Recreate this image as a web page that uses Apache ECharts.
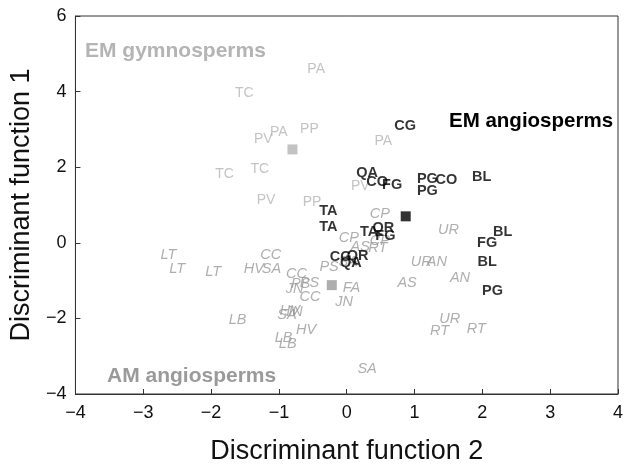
<!DOCTYPE html>
<html>
<head>
<meta charset="utf-8">
<script src="https://cdn.jsdelivr.net/npm/echarts@6/dist/echarts.min.js"></script>
<style>
html, body { margin: 0; padding: 0; background: #fff; }
#main { width: 626px; height: 470px; }
</style>
</head>
<body>
<div id="main"></div>
<script>
// EM gymnosperms
var gymNames = ['PA', 'TC', 'PP', 'PA', 'PV', 'PA', 'TC', 'TC', 'PV', 'PV', 'PP'];
var gymX = [-0.45, -1.51, -0.55, -1.00, -1.23, 0.54, -1.28, -1.80, 0.20, -1.19, -0.51];
var gymY = [4.60, 3.97, 3.01, 2.92, 2.75, 2.68, 1.96, 1.81, 1.49, 1.12, 1.08];
var gymCentroid = [-0.80, 2.47];

// EM angiosperms
var emaNames = ['CG', 'QA', 'CO', 'FG', 'PG', 'CO', 'PG', 'BL', 'TA', 'TA', 'TA', 'QR', 'FG', 'CG', 'QR', 'QA', 'BL', 'FG', 'BL', 'PG'];
var emaX = [0.86, 0.30, 0.45, 0.67, 1.19, 1.47, 1.19, 1.99, -0.27, -0.27, 0.33, 0.54, 0.57, -0.09, 0.16, 0.06, 2.30, 2.07, 2.07, 2.15];
var emaY = [3.08, 1.85, 1.62, 1.53, 1.70, 1.66, 1.37, 1.74, 0.83, 0.42, 0.29, 0.40, 0.19, -0.38, -0.34, -0.54, 0.29, -0.01, -0.51, -1.28];
var emaCentroid = [0.87, 0.70];

// AM angiosperms
var amNames = ['CP', 'CP', 'CP', 'AS', 'RT', 'SA', 'PS', 'UR', 'UR', 'AN', 'AN', 'AS', 'UR', 'RT', 'RT', 'SA', 'FA', 'JN',
  'CC', 'HV', 'SA', 'LT', 'LT', 'LT', 'CC', 'PS', 'PS', 'JN', 'CC', 'HV', 'JN', 'SA', 'LB', 'HV', 'LB', 'LB'];
var amX = [0.49, 0.03, 0.49, 0.20, 0.46, 0.02, -0.26, 1.50, 1.10, 1.33, 1.67, 0.89, 1.52, 1.37, 1.91, 0.30, 0.07, -0.04,
  -1.12, -1.37, -1.11, -2.63, -2.50, -1.97, -0.74, -0.55, -0.68, -0.77, -0.54, -0.84, -0.78, -0.88, -1.61, -0.60, -0.93, -0.87];
var amY = [0.76, 0.13, 0.06, -0.11, -0.13, -0.50, -0.64, 0.33, -0.51, -0.51, -0.93, -1.06, -2.01, -2.32, -2.28, -3.33, -1.19, -1.57,
  -0.31, -0.70, -0.70, -0.33, -0.70, -0.77, -0.83, -1.05, -1.09, -1.22, -1.44, -1.80, -1.82, -1.92, -2.03, -2.31, -2.53, -2.67];
var amCentroid = [-0.22, -1.12];

var font = 'Liberation Sans, Arial, sans-serif';

function pts(names, xs, ys) {
  var out = [];
  for (var i = 0; i < names.length; i++) {
    out.push({ name: names[i], value: [xs[i], ys[i]] });
  }
  return out;
}

function labelSeries(data, color, size, weight, style, z) {
  return {
    type: 'scatter',
    data: data,
    symbolSize: 1,
    silent: true,
    z: z,
    itemStyle: { color: 'rgba(0,0,0,0)' },
    label: {
      show: true,
      position: 'inside',
      formatter: '{b}',
      color: color,
      fontFamily: font,
      fontSize: size,
      fontWeight: weight,
      fontStyle: style
    },
    emphasis: { disabled: true }
  };
}

function centroidSeries(pt, color) {
  return {
    type: 'scatter',
    data: [pt],
    symbol: 'rect',
    symbolSize: 10,
    silent: true,
    z: 1,
    itemStyle: { color: color }
  };
}

function minusFmt(v) { return v < 0 ? '\u2212' + (-v) : '' + v; }

var myChart = echarts.init(document.getElementById('main'));

var option = {
  animation: false,
  grid: {
    left: 75, right: 3, top: 16, bottom: 72,
    show: true, borderColor: '#333', borderWidth: 1
  },
  xAxis: {
    type: 'value',
    min: -4, max: 4, interval: 1,
    name: 'Discriminant function 2',
    nameLocation: 'middle',
    nameGap: 44,
    nameTextStyle: { fontSize: 27, color: '#111', fontFamily: font },
    axisLine: { show: true, onZero: false, lineStyle: { color: '#333' } },
    axisTick: { show: true, inside: true, length: 5, lineStyle: { color: '#333' } },
    axisLabel: { fontSize: 18, color: '#111', fontFamily: font, margin: 10, formatter: minusFmt },
    splitLine: { show: false }
  },
  yAxis: {
    type: 'value',
    min: -4, max: 6, interval: 2,
    name: 'Discriminant function 1',
    nameLocation: 'middle',
    nameGap: 40,
    nameTextStyle: { fontSize: 27, color: '#111', fontFamily: font },
    axisLine: { show: true, onZero: false, lineStyle: { color: '#333' } },
    axisTick: { show: true, inside: true, length: 5, lineStyle: { color: '#333' } },
    axisLabel: { fontSize: 18, color: '#111', fontFamily: font, margin: 9, formatter: minusFmt },
    splitLine: { show: false }
  },
  graphic: [
    { type: 'text', left: 85, top: 41, style: { text: 'EM gymnosperms', fill: '#b4b4b4', font: 'bold 21px ' + font } },
    { type: 'text', left: 449, top: 111, style: { text: 'EM angiosperms', fill: '#000', font: 'bold 20.5px ' + font } },
    { type: 'text', left: 107, top: 366, style: { text: 'AM angiosperms', fill: '#9a9a9a', font: 'bold 21px ' + font } }
  ],
  series: [
    centroidSeries(gymCentroid, '#b4b4b4'),
    centroidSeries(amCentroid, '#9a9a9a'),
    centroidSeries(emaCentroid, '#000'),
    labelSeries(pts(gymNames, gymX, gymY), '#b4b4b4', 14, 'normal', 'normal', 2),
    labelSeries(pts(amNames, amX, amY), '#9a9a9a', 14.5, 'normal', 'italic', 3),
    labelSeries(pts(emaNames, emaX, emaY), '#000', 14.5, 'bold', 'normal', 4)
  ]
};

myChart.setOption(option);
</script>
</body>
</html>
